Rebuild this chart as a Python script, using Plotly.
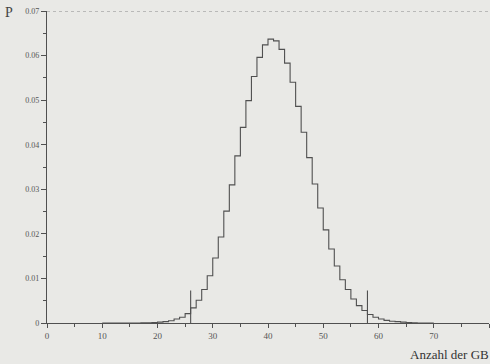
import plotly.graph_objects as go

# number of GBs (k) and probability P(k)
k_values = list(range(10, 71))
p_values = [
    0, 0, 0, 0, 0, 0, 0, 0.00002, 0.00004, 0.0001,          # 10-19
    0.0002, 0.0003, 0.0005, 0.0009, 0.0013, 0.0021, 0.0034, 0.0051, 0.0075, 0.0106,  # 20-29
    0.0146, 0.0193, 0.0251, 0.0310, 0.0375, 0.0439, 0.0499, 0.0553, 0.0596, 0.0624,  # 30-39
    0.0637, 0.0633, 0.0614, 0.0583, 0.0540, 0.0486, 0.0428, 0.0371, 0.0312, 0.0258,  # 40-49
    0.0209, 0.0166, 0.0128, 0.0097, 0.0075, 0.0054, 0.0039, 0.0028, 0.0019, 0.0013,  # 50-59
    0.0009, 0.0006, 0.0004, 0.0003, 0.0002, 0.0001, 0.00005, 0, 0, 0, 0,              # 60-70
]

marker_x = [26, 58]
marker_height = 0.0073

x_tickvals = [0, 10, 20, 30, 40, 50, 60, 70, 80]
x_ticktext = ["0", "10", "20", "30", "40", "50", "60", "70", "80"]
y_tickvals = [0, 0.01, 0.02, 0.03, 0.04, 0.05, 0.06, 0.07]
y_ticktext = ["0", "0.01", "0.02", "0.03", "0.04", "0.05", "0.06", "0.07"]

line_col = "#505050"
font_col = "#555555"
serif = "Liberation Serif, DejaVu Serif, serif"

fig = go.Figure()
fig.add_trace(go.Scatter(
    x=k_values, y=p_values, mode="lines", line_shape="hv",
    line=dict(color=line_col, width=1.1), showlegend=False, hoverinfo="skip",
))
for mx in marker_x:
    fig.add_trace(go.Scatter(
        x=[mx, mx], y=[0, marker_height], mode="lines",
        line=dict(color=line_col, width=1.1), showlegend=False, hoverinfo="skip",
    ))

fig.add_shape(type="line", xref="paper", yref="y", x0=0.0, x1=1, y0=0.07, y1=0.07,
              line=dict(color="#8a8a8a", width=1.2, dash="dot"))

fig.update_layout(
    width=490, height=364,
    margin=dict(l=47, r=1, t=11, b=41),
    paper_bgcolor="#e9e9e6", plot_bgcolor="#e9e9e6",
    font=dict(family=serif, color=font_col, size=8),
    xaxis=dict(range=[0, 80], tickvals=x_tickvals, ticktext=x_ticktext,
               showgrid=False, zeroline=False, showline=True, linecolor=line_col, linewidth=1.2,
               ticks="outside", ticklen=4, tickcolor=line_col,
               minor=dict(dtick=5, tick0=0, ticks="outside", ticklen=3, tickcolor=line_col),
               tickfont=dict(size=9, color=font_col, family=serif)),
    yaxis=dict(range=[0, 0.07], tickvals=y_tickvals, ticktext=y_ticktext,
               showgrid=False, zeroline=False, showline=True, linecolor=line_col, linewidth=1.2,
               ticks="outside", ticklen=5, tickcolor=line_col,
               minor=dict(dtick=0.005, tick0=0, ticks="outside", ticklen=3, tickcolor=line_col),
               tickfont=dict(size=8, color=font_col, family=serif)),
    annotations=[
        dict(text="P", xref="paper", yref="paper", x=-47/442, y=1.0, xanchor="left", yanchor="middle",
             yshift=-1, xshift=3, showarrow=False, font=dict(size=14, color="#444444", family=serif)),
        dict(text="Anzahl der GB", xref="paper", yref="paper", x=1.0, y=0, xanchor="right", yanchor="top",
             yshift=-22, xshift=2, showarrow=False, font=dict(size=13, color="#333333", family=serif)),
    ],
)

fig.write_html(
    "out.html",
    config={"displayModeBar": False},
    post_script="document.body.style.margin='0';document.body.style.overflow='hidden';",
)
